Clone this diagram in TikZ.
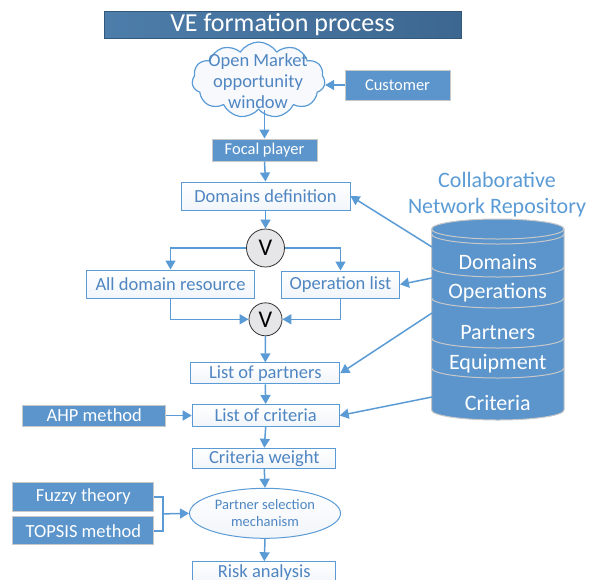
\documentclass[tikz,border=0pt]{standalone}
\usepackage{fontspec}
\setmainfont{Carlito}
\usetikzlibrary{shapes.geometric,shapes.symbols,arrows.meta,calc}

\definecolor{lineblue}{HTML}{5B9BD5}
\definecolor{boxblue}{HTML}{5B95CC}
\definecolor{textblue}{HTML}{4F86C2}
\definecolor{edgegray}{HTML}{C8C8C8}
\definecolor{titledark}{HTML}{3D6790}
\definecolor{titlelight}{HTML}{4D7DAA}
\definecolor{gategray}{HTML}{E6E6E9}
\definecolor{paleblue}{HTML}{F1F5FA}

\newcommand{\fsz}[2]{\fontsize{#1}{#2}\selectfont}

\tikzset{
  flowbox/.style={draw=lineblue, line width=1pt, top color=white, bottom color=paleblue,
    text=textblue, font=\fsz{18.5}{22}, inner sep=0pt},
  solidbox/.style={draw=edgegray, line width=1pt, fill=boxblue,
    text=white, font=\fsz{18.5}{22}, inner sep=0pt},
  orgate/.style={circle, draw=black!80, line width=0.8pt, fill=gategray,
    font=\fsz{24}{24}, inner sep=0pt},
  link/.style={draw=lineblue, line width=1.5pt, -{Triangle[length=9pt,width=10pt]}},
  plain/.style={draw=lineblue, line width=1.5pt},
  repolabel/.style={text=white, font=\fsz{22}{26}},
}

\begin{document}
\begin{tikzpicture}[x=1pt,y=-1pt]
\useasboundingbox (0,0) rectangle (589,579);

% title banner
\node[draw=titledark!85!black, line width=0.6pt, left color=titlelight, right color=titledark,
      minimum width=357pt, minimum height=27pt, inner sep=0pt,
      text=white, font=\fsz{26}{26}] (title) at (282.5,24.5) {VE formation process};

% market opportunity cloud
\node[cloud, cloud puffs=11, cloud puff arc=115, aspect=1.75, draw=lineblue, line width=1.2pt,
      fill=paleblue!60!white, minimum width=133pt, minimum height=76pt, inner sep=0pt]
      (cloud) at (258.5,80) {};
\node[text=textblue, font=\fsz{18.5}{21}, align=center] (cloudtext) at (258,81)
      {Open Market\\opportunity\\window};

\node[solidbox, minimum width=105pt, minimum height=30pt, font=\fsz{16.5}{20}] (customer) at (397.5,85) {Customer};
\node[solidbox, minimum width=105pt, minimum height=22pt, font=\fsz{16.5}{20}] (focal) at (264.5,150) {Focal player};
\node[flowbox, minimum width=169pt, minimum height=28pt] (domdef) at (265.5,196) {Domains definition};

\node[orgate, minimum size=38pt] (v1) at (265.5,248) {V};
\node[flowbox, minimum width=168pt, minimum height=28pt] (alldom) at (170.5,284) {All domain resource};
\node[flowbox, minimum width=118pt, minimum height=27pt] (oplist) at (340.5,284.5) {Operation list};
\node[orgate, minimum size=33pt] (v2) at (265.5,319.3) {V};

\node[flowbox, minimum width=149pt, minimum height=21pt] (parts) at (265.3,373.3) {List of partners};
\node[flowbox, minimum width=147pt, minimum height=22pt] (crit) at (265.7,415.5) {List of criteria};
\node[solidbox, minimum width=143pt, minimum height=21pt] (ahp) at (94.3,415.5) {AHP method};
\node[flowbox, minimum width=143pt, minimum height=20pt] (weight) at (264.3,458.3) {Criteria weight};
\node[ellipse, draw=lineblue, line width=1pt, top color=white, bottom color=paleblue,
      minimum width=151pt, minimum height=50pt, inner sep=0pt, align=center,
      text=textblue, font=\fsz{14.5}{16.7}] (psm) at (265,513.3) {Partner selection\\mechanism};
\node[solidbox, minimum width=141pt, minimum height=29pt] (fuzzy) at (83.3,497) {Fuzzy theory};
\node[solidbox, minimum width=141pt, minimum height=28pt] (topsis) at (83.3,530.8) {TOPSIS method};
\node[flowbox, minimum width=143pt, minimum height=22pt] (risk) at (264.3,572.7) {Risk analysis};

% collaborative network repository (stacked cylinder)
\node[text=lineblue, font=\fsz{22}{26}, align=center] (repotitle) at (497,195)
      {Collaborative\\Network Repository};
\fill[boxblue] (431.5,229) -- (431.5,410)
   arc[start angle=180, end angle=360, x radius=66.25pt, y radius=10pt]
   -- (564,229)
   arc[start angle=0, end angle=180, x radius=66.25pt, y radius=10pt] -- cycle;
\draw[edgegray, line width=1pt] (431.5,229) -- (431.5,410)
   arc[start angle=180, end angle=360, x radius=66.25pt, y radius=10pt]
   -- (564,229)
   arc[start angle=0, end angle=180, x radius=66.25pt, y radius=10pt];
\foreach \yy in {229,234,267,298,338,368}
  \draw[edgegray, line width=1pt] (431.5,\yy)
     arc[start angle=180, end angle=360, x radius=66.25pt, y radius=10pt];
\node[repolabel] (rdom)  at (497.75,262) {Domains};
\node[repolabel] (rop)   at (497.75,293) {Operations};
\node[repolabel] (rpart) at (497.75,333) {Partners};
\node[repolabel] (requip) at (497.75,364) {Equipment};
\node[repolabel] (rcrit) at (497.75,403) {Criteria};
\coordinate (repo-dom)  at (432,247);
\coordinate (repo-op)   at (432,278);
\coordinate (repo-part) at (432,313);
\coordinate (repo-crit) at (432,397);

% main flow
\draw[link] (customer.west) -- (customer.west -| cloud.east);
\draw[link] (focal.north |- cloud.south) -- (focal.north);
\draw[link] (focal.south) -- (domdef.north);
\draw[link] (domdef.south) -- (v1.north);
\draw[link] (v1.west) -| (alldom.north);
\draw[link] (v1.east) -| (oplist.north);
\draw[link] (alldom.south) |- (v2.west);
\draw[link] (oplist.south) |- (v2.east);
\draw[link] (v2.south) -- (parts.north);
\draw[link] (parts.south) -- (crit.north);
\draw[link] (ahp.east) -- (crit.west);
\draw[link] (crit.south) -- (weight.north);
\draw[link] (weight.south) -- (psm.north);
\draw[link] (psm.south) -- (risk.north);

% methods feeding the selection mechanism
\path ($(fuzzy.east)!.5!(topsis.east)+(8.7,0)$) coordinate (brace);
\draw[plain] (fuzzy.east) -| (brace) |- (topsis.east);
\draw[link] (brace) -- (psm.west);

% repository links
\draw[link] (repo-dom)  -- (domdef.east);
\draw[link] (repo-op)   -- (oplist.east);
\draw[link] (repo-part) -- (parts.east);
\draw[link] (repo-crit) -- (crit.east);
\end{tikzpicture}
\end{document}
